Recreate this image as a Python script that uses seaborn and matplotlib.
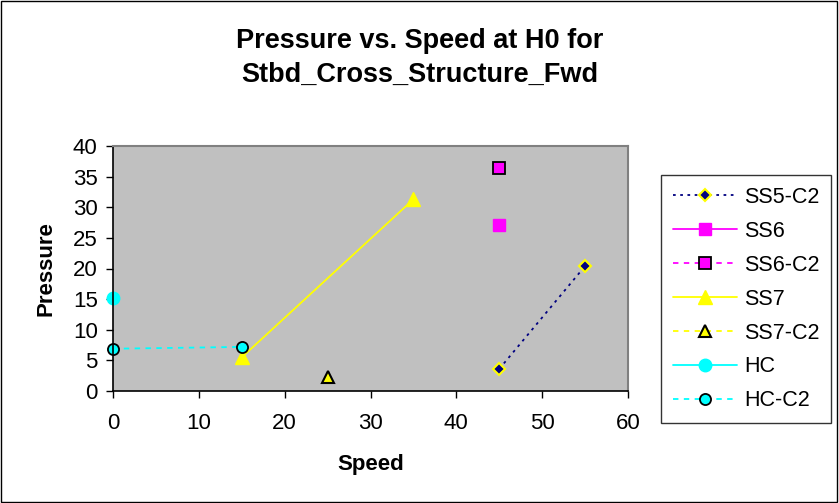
import matplotlib
matplotlib.use("Agg")
import matplotlib.pyplot as plt
from matplotlib.patches import Rectangle
import pandas as pd
import seaborn as sns

# Measured pressure readings per test series
ss5_c2_speed = [45, 55]
ss5_c2_pressure = [3.6, 20.4]
ss6_speed = [45]
ss6_pressure = [27.1]
ss6_c2_speed = [45]
ss6_c2_pressure = [36.4]
ss7_speed = [15, 35]
ss7_pressure = [5.5, 31.3]
ss7_c2_speed = [25]
ss7_c2_pressure = [2.3]
hc_speed = [0]
hc_pressure = [15.2]
hc_c2_speed = [0, 15]
hc_c2_pressure = [6.9, 7.2]

x_ticks = [0, 10, 20, 30, 40, 50, 60]
y_ticks = [0, 5, 10, 15, 20, 25, 30, 35, 40]

sns.set_theme(style="white")
plt.rcParams["font.family"] = ["Liberation Sans", "DejaVu Sans"]
plt.rcParams.update({"text.color": "black", "axes.labelcolor": "black",
                     "xtick.color": "black", "ytick.color": "black"})

fig = plt.figure(figsize=(8.39, 5.03), dpi=100)
ax = fig.add_axes([113 / 839, 1 - 391 / 503, 515 / 839, 245 / 503])
ax.set_facecolor("#C0C0C0")

series = [
    ("SS5-C2", ss5_c2_speed, ss5_c2_pressure,
     dict(color="#000080", linestyle=(0, (1.5, 2.5)), marker="D", markersize=6,
          markerfacecolor="#000080", markeredgecolor="#FFFF00", markeredgewidth=1.5)),
    ("SS6", ss6_speed, ss6_pressure,
     dict(color="#FF00FF", linestyle="-", marker="s", markersize=9,
          markerfacecolor="#FF00FF", markeredgecolor="#FF00FF", markeredgewidth=1)),
    ("SS6-C2", ss6_c2_speed, ss6_c2_pressure,
     dict(color="#FF00FF", linestyle=(0, (3, 3)), marker="s", markersize=8,
          markerfacecolor="#FF00FF", markeredgecolor="black", markeredgewidth=1.3)),
    ("SS7", ss7_speed, ss7_pressure,
     dict(color="#FFFF00", linestyle="-", marker="^", markersize=10,
          markerfacecolor="#FFFF00", markeredgecolor="#FFFF00", markeredgewidth=1)),
    ("SS7-C2", ss7_c2_speed, ss7_c2_pressure,
     dict(color="#FFFF00", linestyle=(0, (3, 3)), marker="^", markersize=8,
          markerfacecolor="#FFFF00", markeredgecolor="black", markeredgewidth=1.5)),
    ("HC", hc_speed, hc_pressure,
     dict(color="#00FFFF", linestyle="-", marker="o", markersize=9,
          markerfacecolor="#00FFFF", markeredgecolor="#00FFFF", markeredgewidth=1)),
    ("HC-C2", hc_c2_speed, hc_c2_pressure,
     dict(color="#00FFFF", linestyle=(0, (3, 3)), marker="o", markersize=8,
          markerfacecolor="#00FFFF", markeredgecolor="black", markeredgewidth=1.3)),
]

handles = []
for name, xs, ys, style in series:
    df = pd.DataFrame({"Speed": xs, "Pressure": ys})
    sns.lineplot(data=df, x="Speed", y="Pressure", ax=ax, sort=False,
                 linewidth=1.3, clip_on=False, label=name, legend=False, **style)
    handles.append(ax.lines[-1])

ax.set_xlim(0, 60)
ax.set_ylim(0, 40)
ax.set_xticks(x_ticks)
ax.set_yticks(y_ticks)
ax.tick_params(axis="both", which="major", direction="out", length=5, width=1,
               color="black", labelsize=16, labelcolor="black",
               bottom=True, left=True)
ax.tick_params(axis="x", pad=11)
ax.tick_params(axis="y", pad=6)

for side in ("left", "bottom"):
    ax.spines[side].set_color("black")
    ax.spines[side].set_linewidth(1.2)
for side in ("top", "right"):
    ax.spines[side].set_color("#808080")
    ax.spines[side].set_linewidth(1.5)

ax.set_xlabel("Speed", fontsize=16, fontweight="bold", labelpad=14)
ax.set_ylabel("Pressure", fontsize=16, fontweight="bold", labelpad=12)

fig.text(0.5, 1 - 41 / 503, "Pressure vs. Speed at H0 for",
         ha="center", va="center", fontsize=19.5, fontweight="bold")
fig.text(0.5, 1 - 75 / 503, "Stbd_Cross_Structure_Fwd",
         ha="center", va="center", fontsize=19.5, fontweight="bold")

leg = fig.legend(handles=handles, labels=[s[0] for s in series],
                 loc="upper left", bbox_to_anchor=(661 / 839, 1 - 175 / 503),
                 fontsize=15.5, frameon=True, fancybox=False, handlelength=3.0,
                 handletextpad=0.3, labelspacing=0.6, borderpad=0.55,
                 borderaxespad=0)
leg.get_frame().set_edgecolor("black")
leg.get_frame().set_linewidth(1)

# Outer chart border
fig.patches.append(Rectangle((0.001, 0.002), 0.997, 0.996, transform=fig.transFigure,
                             fill=False, edgecolor="black", linewidth=1))

fig.savefig("out.png", dpi=100)
